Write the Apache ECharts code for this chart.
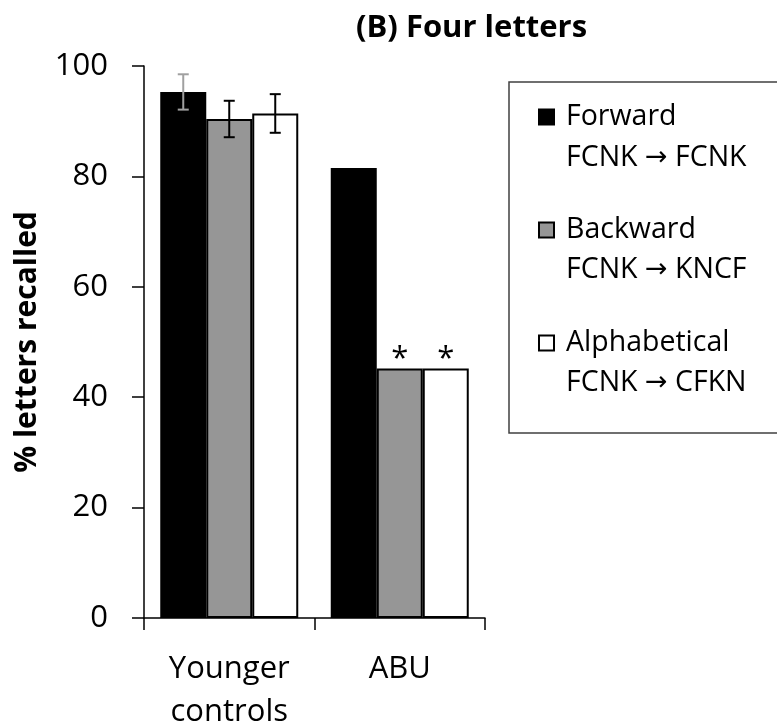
<!DOCTYPE html>
<html>
<head>
<meta charset="utf-8">
<script src="https://cdn.jsdelivr.net/npm/echarts@6/dist/echarts.min.js"></script>
<style>html,body{margin:0;padding:0;background:#fff;}#c{width:777px;height:728px;}</style>
</head>
<body>
<div id="c"></div>
<script>
var categories = ['Younger\ncontrols', 'ABU'];
var seriesNames = ['Forward', 'Backward', 'Alphabetical'];
var subtitleFrom = ['FCNK', 'FCNK', 'FCNK'];
var subtitleTo = ['FCNK', 'KNCF', 'CFKN'];
var forward = [95.3, 81.5];
var backward = [90.4, 45.2];
var alphabetical = [91.4, 45.2];
var forwardErr = [3.2, null];
var backwardErr = [3.3, null];
var alphabeticalErr = [3.5, null];
var forwardSig = [false, false];
var backwardSig = [false, true];
var alphabeticalSig = [false, true];
var yTicks = [0, 20, 40, 60, 80, 100];

var FONT = '"Open Sans", sans-serif';
var BAR_W = 46;
var fills = ['#000000', '#969696', '#ffffff'];
var errColors = ['#a0a0a0', '#000000', '#000000'];
var values = [forward, backward, alphabetical];
var errs = [forwardErr, backwardErr, alphabeticalErr];
var sigs = [forwardSig, backwardSig, alphabeticalSig];

var chart = echarts.init(document.getElementById('c'), null, {renderer: 'canvas'});

var series = [];
values.forEach(function (vals, si) {
  series.push({
    name: seriesNames[si],
    type: 'bar',
    barWidth: BAR_W,
    barGap: '0%',
    itemStyle: {color: fills[si], borderColor: '#000', borderWidth: 2},
    data: vals.map(function (v, ci) {
      var d = {value: v};
      if (sigs[si][ci]) {
        d.label = {show: true, position: 'top', distance: -6, formatter: '*',
          fontFamily: FONT, fontSize: 31, color: '#000'};
      }
      return d;
    })
  });
});

values.forEach(function (vals, si) {
  var data = [];
  vals.forEach(function (v, ci) {
    var e = errs[si][ci];
    if (e != null) data.push([ci, v - e, v + e, si - 1]);
  });
  series.push({
    type: 'custom',
    silent: true,
    z: 5,
    data: data,
    renderItem: function (params, api) {
      var ci = api.value(0);
      var lo = api.coord([ci, api.value(1)]);
      var hi = api.coord([ci, api.value(2)]);
      var x = lo[0] + api.value(3) * BAR_W;
      var cap = 5.5;
      var st = {stroke: errColors[si], lineWidth: 2};
      return {
        type: 'group',
        children: [
          {type: 'line', shape: {x1: x, y1: lo[1], x2: x, y2: hi[1]}, style: st},
          {type: 'line', shape: {x1: x - cap, y1: lo[1], x2: x + cap, y2: lo[1]}, style: st},
          {type: 'line', shape: {x1: x - cap, y1: hi[1], x2: x + cap, y2: hi[1]}, style: st}
        ]
      };
    }
  });
});

var option = {
  animation: false,
  backgroundColor: '#fff',
  title: {
    text: '(B) Four letters',
    left: 351, top: 8,
    textStyle: {fontFamily: FONT, fontWeight: 'bold', fontSize: 31, color: '#000'}
  },
  grid: {left: 144, right: 292, top: 66, bottom: 110, containLabel: false, outerBoundsMode: 'none'},
  legend: {
    data: seriesNames,
    orient: 'vertical',
    left: 509, top: 82,
    padding: [13, 60, 68, 29],
    borderColor: '#404040',
    borderWidth: 1.5,
    itemWidth: 15, itemHeight: 15,
    itemGap: 69,
    icon: 'rect',
    selectedMode: false,
    textStyle: {fontFamily: FONT, fontSize: 28.5, color: '#000', lineHeight: 44, padding: [0, 0, 0, 7]}
  },
  graphic: subtitleFrom.map(function (f, i) {
    return {
      type: 'text',
      left: 566, top: [143, 255, 368][i],
      style: {
        text: '{a|' + f + ' }{b|\u2192}{a| ' + subtitleTo[i] + '}',
        rich: {
          a: {fontFamily: FONT, fontSize: 28.5, fill: '#000', color: '#000'},
          b: {fontFamily: '"DejaVu Sans"', fontSize: 27, fill: '#000', color: '#000'}
        }
      }
    };
  }),
  xAxis: {
    type: 'category',
    data: categories,
    axisLine: {lineStyle: {color: '#000', width: 1.5}},
    axisTick: {show: true, length: 12, lineStyle: {color: '#000', width: 1.5}},
    axisLabel: {fontFamily: FONT, fontSize: 31, color: '#000', margin: 30, lineHeight: 43}
  },
  yAxis: {
    type: 'value',
    min: 0, max: 100, interval: 20,
    name: '% letters recalled',
    nameLocation: 'middle',
    nameRotate: 90,
    nameGap: 102,
    nameTextStyle: {fontFamily: FONT, fontWeight: 'bold', fontSize: 30, color: '#000'},
    splitLine: {show: false},
    axisLine: {show: true, lineStyle: {color: '#000', width: 1.5}},
    axisTick: {show: true, length: 12, lineStyle: {color: '#000', width: 1.5}},
    axisLabel: {fontFamily: FONT, fontSize: 31, color: '#000', margin: 36,
      formatter: function (v) { return yTicks.indexOf(v) >= 0 ? String(v) : ''; }}
  },
  series: series
};
chart.setOption(option);
</script>
</body>
</html>
